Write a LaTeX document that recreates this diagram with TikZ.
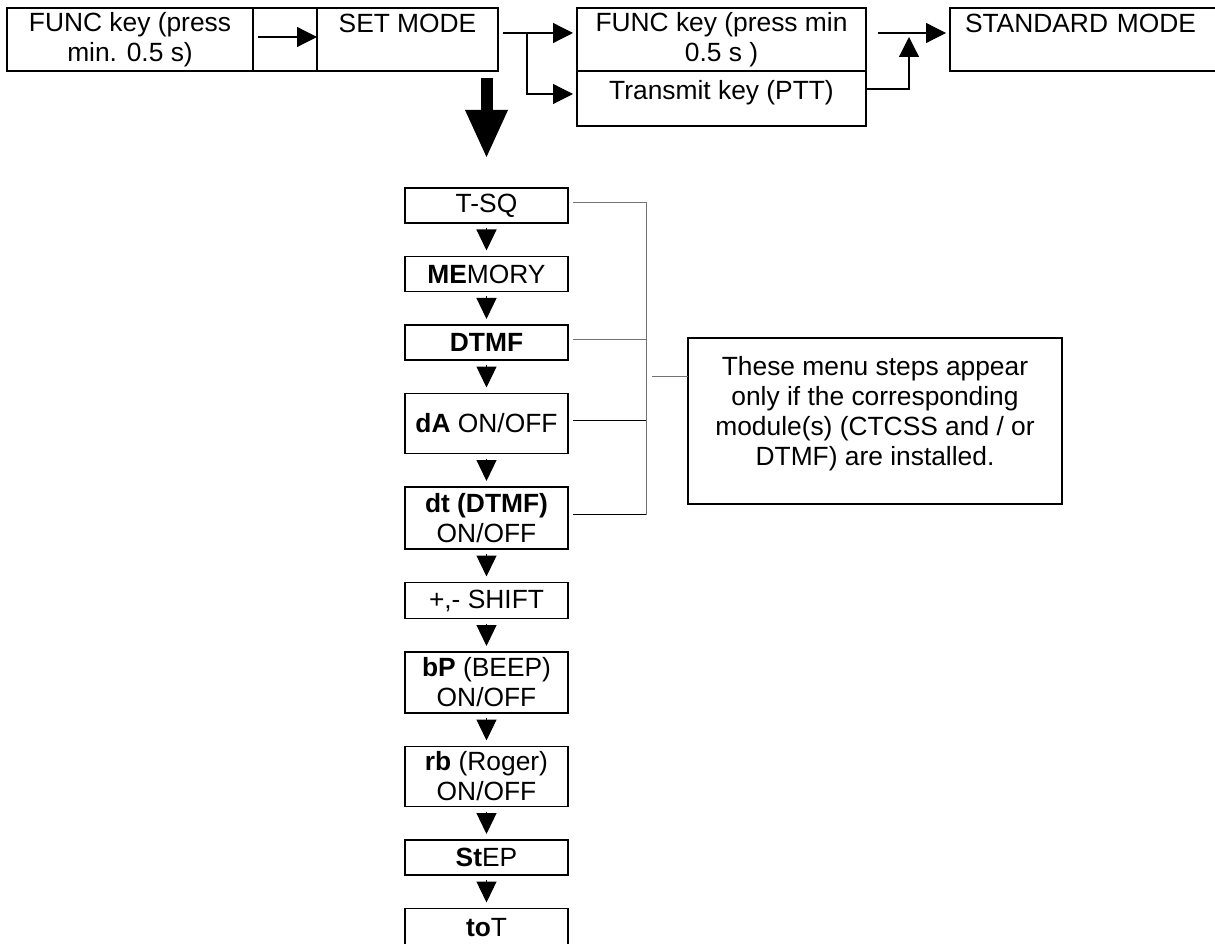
\documentclass[tikz,border=0pt]{standalone}
\usepackage{fontspec}
\setmainfont{Liberation Sans}
\usepackage{tikz}
\usetikzlibrary{arrows.meta,positioning,calc}
\newcommand{\menufont}{\fontsize{15}{17}\selectfont}
\tikzset{
  keybox/.style  ={rectangle, draw=black, line width=1.1pt, inner sep=0pt,
                   outer sep=0pt, minimum height=12.6mm, align=center,
                   font=\menufont},
  topbox/.style  ={keybox, text height=5mm, text depth=7.6mm},
  menubox/.style ={rectangle, draw=black, line width=1.1pt, inner sep=0pt,
                   outer sep=0pt, minimum width=32.6mm, minimum height=7mm,
                   align=center, font=\menufont},
  notebox/.style ={rectangle, draw=black, line width=1.1pt, inner sep=0pt,
                   outer sep=0pt, minimum width=74.8mm, minimum height=33.2mm,
                   align=center, font=\menufont},
  flow/.style    ={-{Triangle[length=4mm,width=4mm]}, line width=0.7pt},
  stepflow/.style={-{Triangle[length=4.2mm,width=4mm]}, line width=0.7pt,
                   shorten <=1mm, shorten >=1.2mm},
  bigflow/.style ={-{Triangle[length=9.4mm,width=8.6mm,line width=0pt]},
                   line width=2.4mm},
  brk/.style     ={draw=black!55, line width=0.5pt},
  brkdark/.style ={draw=black, line width=0.5pt}
}

\begin{document}
\begin{tikzpicture}[x=0.2mm, y=-0.2mm, node distance=6.7mm]
  \useasboundingbox (0,0) rectangle (1215,944);

  % top row
  \node[keybox, minimum width=49.2mm] (func1) at (130,39.5)
       {FUNC key (press\\min. 0.5 s)};
  \node[keybox, minimum width=12.8mm, right=0mm of func1] (keycell) {};
  \node[topbox, minimum width=36.2mm, right=0mm of keycell] (setmode) {SET MODE};
  \node[keybox, minimum width=57.8mm] (func2) at (721.5,39.5)
       {FUNC key (press min\\0.5 s )};
  \node[keybox, minimum width=57.8mm, minimum height=11mm, text height=5.8mm,
        text depth=5.2mm, below=0mm of func2] (ptt) {Transmit key (PTT)};
  \node[topbox, text width=54mm, align=left, inner xsep=3mm] (std) at (1100,39.5)
       {STANDARD MODE};

  \draw[flow, shorten <=1mm] ([yshift=0.5mm]keycell.west) -- ([yshift=0.5mm]keycell.east);
  \draw[flow, shorten <=1mm, shorten >=0.8mm]
       ([yshift=1.3mm]setmode.east) -- ([yshift=1.3mm]func2.west);
  \coordinate (split) at ([xshift=5.8mm,yshift=1.3mm]setmode.east);
  \draw[flow, shorten >=0.8mm] (split) |- ([yshift=0.9mm]ptt.west);
  \draw[flow, shorten <=2.4mm, shorten >=0.8mm]
       ([yshift=1.3mm]func2.east) -- ([yshift=1.3mm]std.west);
  \coordinate (join) at ([xshift=8.6mm,yshift=1.3mm]func2.east);
  \draw[flow, shorten >=0.8mm] ([yshift=1.9mm]ptt.east) -| (join);

  % menu steps
  \node[menubox] (tsq) at (486.5,205.5) {T-SQ};
  \node[menubox, below=of tsq]    (memory) {\textbf{ME}MORY};
  \node[menubox, below=of memory] (dtmf)   {\textbf{DTMF}};
  \node[menubox, minimum height=12mm, below=of dtmf] (da) {\textbf{dA} ON/OFF};
  \node[menubox, minimum height=12.4mm, below=of da] (dt) {\textbf{dt (DTMF)}\\ON/OFF};
  \node[menubox, minimum height=7.2mm, below=of dt] (shift) {+,- SHIFT};
  \node[menubox, minimum height=12.2mm, below=of shift] (bp) {\textbf{bP} (BEEP)\\ON/OFF};
  \node[menubox, minimum height=12mm, below=of bp] (rb) {\textbf{rb} (Roger)\\ON/OFF};
  \node[menubox, below=of rb]   (step) {\textbf{St}EP};
  \node[menubox, minimum height=7.6mm, below=of step] (tot) {\textbf{to}T};

  \draw[bigflow] ([yshift=-1.4mm]setmode.south -| tsq.north) -- ([yshift=6.2mm]tsq.north);
  \foreach \a/\b in {tsq/memory, memory/dtmf, dtmf/da, da/dt, dt/shift,
                     shift/bp, bp/rb, rb/step, step/tot}
    \draw[stepflow] (\a) -- (\b);

  % optional steps note
  \node[notebox] (note) at (875,421)
       {These menu steps appear\\only if the corresponding\\module(s) (CTCSS and / or\\DTMF) are installed.\rule[-4mm]{0pt}{0pt}};
  \coordinate (barx) at (646,0);
  \foreach \n in {tsq,dtmf}
    \draw[brk] ([xshift=1mm,yshift=0.7mm]\n.east) -- ([yshift=0.7mm]\n.east -| barx);
  \foreach \n in {da,dt}
    \draw[brkdark] ([xshift=1mm,yshift=0.7mm]\n.east) -- ([yshift=0.7mm]\n.east -| barx);
  \draw[brk] ([yshift=0.7mm]tsq.east -| barx) -- ([yshift=0.7mm]dt.east -| barx);
  \coordinate (notehook) at ([yshift=9mm]note.west);
  \draw[brk] ([xshift=1.2mm]barx |- notehook) -- (notehook);
\end{tikzpicture}
\end{document}
